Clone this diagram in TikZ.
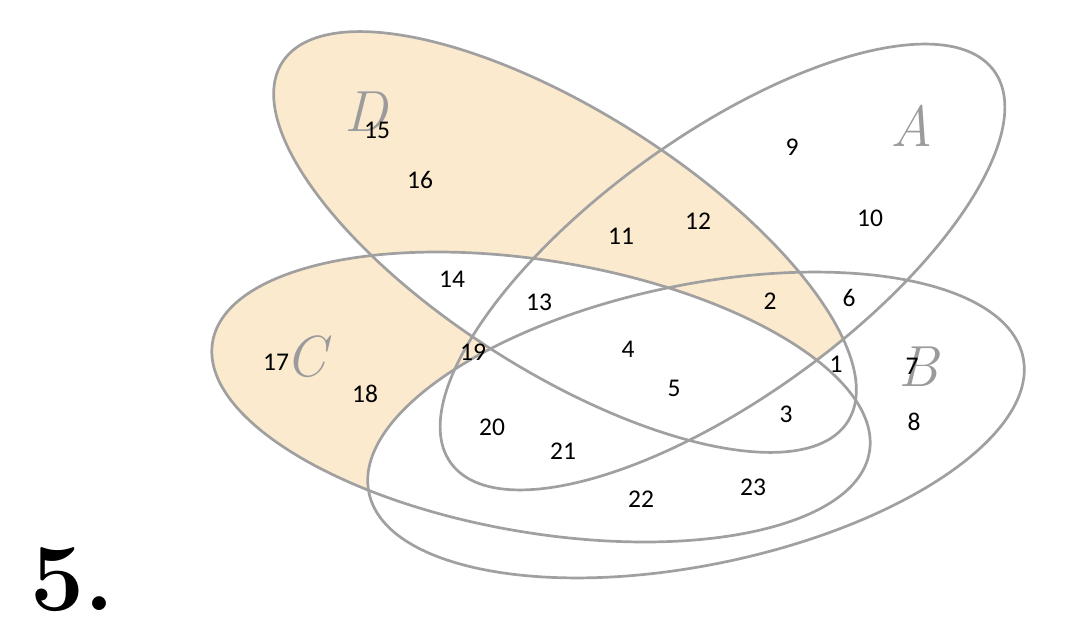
\documentclass[tikz,border=0pt]{standalone}
\usepackage{fontspec}
\newfontfamily\numfont{Carlito}
\definecolor{peach}{RGB}{252,234,206}
\definecolor{edge}{RGB}{160,160,160}
\definecolor{lettergray}{RGB}{155,155,155}
\begin{document}
\begin{tikzpicture}[x=1pt,y=-1pt,
  eA/.style={shift={(722.5,267)},rotate=35.8},
  eB/.style={shift={(696,425)},rotate=11.7},
  eC/.style={shift={(541,397)},rotate=-9.5},
  eD/.style={shift={(565,242)},rotate=-32.4},
  outline/.style={draw=edge,line width=2.7pt},
  num/.style={font=\numfont\fontsize{25.5}{26}\selectfont,inner sep=0pt,text=black},
  setlbl/.style={font=\fontsize{58}{58}\selectfont\itshape,text=lettergray,inner sep=0pt}]
\useasboundingbox (0,0) rectangle (1069,636);
\fill[white] (0,0) rectangle (1069,636);
% shading
\fill[peach,eD] (0,0) ellipse [x radius=335,y radius=130];
\fill[peach,eC] (0,0) ellipse [x radius=333,y radius=136];
\begin{scope}
  \clip[eC] (0,0) ellipse [x radius=333,y radius=136];
  \fill[white,eD] (0,0) ellipse [x radius=335,y radius=130];
\end{scope}
\fill[white,eB] (0,0) ellipse [x radius=334,y radius=140];
\begin{scope}
  \clip[eB] (0,0) ellipse [x radius=334,y radius=140];
  \clip[eA] (0,0) ellipse [x radius=335,y radius=131];
  \fill[peach,eD] (0,0) ellipse [x radius=335,y radius=130];
  \fill[white,eC] (0,0) ellipse [x radius=333,y radius=136];
\end{scope}
% outlines
\draw[outline,eD] (0,0) ellipse [x radius=335,y radius=130];
\draw[outline,eC] (0,0) ellipse [x radius=333,y radius=136];
\draw[outline,eA] (0,0) ellipse [x radius=335,y radius=131];
\draw[outline,eB] (0,0) ellipse [x radius=334,y radius=140];
% set letters
\node[setlbl] (lD) at (366,112) {D};
\node[setlbl] (lA) at (912,126) {A};
\node[setlbl] (lC) at (306,357) {C};
\node[setlbl] (lB) at (918,367) {B};
% numbers
\node[num] (n1) at (836,364) {1};
\node[num] (n2) at (770,301) {2};
\node[num] (n3) at (786,414) {3};
\node[num] (n4) at (628,349) {4};
\node[num] (n5) at (674,388) {5};
\node[num] (n6) at (849,298) {6};
\node[num] (n7) at (912,366) {7};
\node[num] (n8) at (914,422) {8};
\node[num] (n9) at (792,147) {9};
\node[num] (n10) at (870,218) {10};
\node[num] (n11) at (621,236) {11};
\node[num] (n12) at (698,221) {12};
\node[num] (n13) at (539,302) {13};
\node[num] (n14) at (452,279) {14};
\node[num] (n15) at (377,130) {15};
\node[num] (n16) at (420,180) {16};
\node[num] (n17) at (276,362) {17};
\node[num] (n18) at (365,394) {18};
\node[num] (n19) at (473,352) {19};
\node[num] (n20) at (492,427) {20};
\node[num] (n21) at (563,451) {21};
\node[num] (n22) at (641,499) {22};
\node[num] (n23) at (753,487) {23};
% problem number
\node[anchor=base west,inner sep=0pt,font=\bfseries\fontsize{96}{96}\selectfont] (prob) at (30,610) {5.};
\end{tikzpicture}
\end{document}
